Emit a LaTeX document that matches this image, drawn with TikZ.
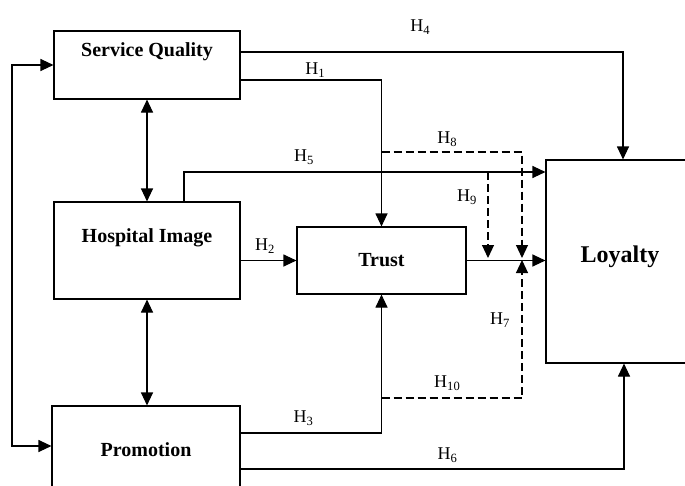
\documentclass[tikz,border=0pt]{standalone}
\usepackage{fontspec}
\setmainfont{Liberation Serif}
\usetikzlibrary{arrows.meta}
\tikzset{
  box/.style={draw, line width=1.1pt, inner sep=0pt},
  ttl/.style={font=\fontsize{20}{23}\selectfont\bfseries},
  hyp/.style={font=\fontsize{18}{21}\selectfont},
  arr/.style={line width=1.1pt, -{Triangle[length=13pt,width=12pt]}},
  arrs/.style={line width=1.1pt, {Triangle[length=13pt,width=12pt]}-{Triangle[length=13pt,width=12pt]}},
  hypdash/.style={arr, dash pattern=on 8pt off 4pt}
}
\begin{document}
\begin{tikzpicture}[x=1pt,y=-1pt]
    \useasboundingbox (0,0) rectangle (685,485);
    \clip (0,0) rectangle (685,485);
    % constructs
    \node[box, minimum width=186pt, minimum height=68pt, label={[ttl,yshift=13pt]center:Service Quality}] (sq) at (147,65) {};
    \node[box, minimum width=186pt, minimum height=97pt, label={[ttl,yshift=12.5pt]center:Hospital Image}] (hi) at (147,250.5) {};
    \node[box, minimum width=188pt, minimum height=114pt, label={[ttl,yshift=13pt]center:Promotion}] (pr) at (146,463) {};
    \node[box, minimum width=169pt, minimum height=67pt, label={[ttl]center:Trust}] (tr) at (381.5,260.5) {};
    \node[box, minimum width=148pt, minimum height=203pt, label={[ttl,font=\fontsize{24}{27}\selectfont\bfseries,yshift=4.5pt]center:Loyalty}] (lo) at (620,261.5) {};
    % correlations
    \draw[arrs] (sq.west) -- (12,65) -- (12,446) -- (pr.west |- 0,446);
    \draw[arrs] (sq.south) -- (hi.north);
    \draw[arrs] (hi.south) -- (hi.south |- pr.north);
    % direct paths
    \draw[arr] (sq.east |- 0,52) -| node[hyp, pos=0.235, yshift=25pt]{H\textsubscript{4}} (lo.north -| 623,0);
    \draw[arr] (sq.east |- 0,80) -| node[hyp, pos=0.265, yshift=10pt]{H\textsubscript{1}} (tr.north);
    \draw[arr] (hi.north -| 184,0) |- node[hyp, pos=0.666, yshift=15pt]{H\textsubscript{5}} (lo.west |- 0,172);
    \draw[arr] (hi.east |- tr.west) -- node[hyp, pos=0.44, yshift=14.5pt]{H\textsubscript{2}} (tr.west);
    \draw[arr] (pr.east |- 0,433) -| node[hyp, pos=0.223, yshift=15pt]{H\textsubscript{3}} (tr.south);
    \draw[arr] (pr.east |- 0,469) -| node[hyp, pos=0.27, yshift=14pt]{H\textsubscript{6}} (lo.south -| 624,0);
    \draw[arr] (tr.east) -- (tr.east -| lo.west);
    % mediated paths
    \draw[hypdash] (tr.north |- 0,152) -| node[hyp, pos=0.234, yshift=13pt]{H\textsubscript{8}} (522,258);
    \draw[hypdash] (488,172) -- node[hyp, pos=0.29, xshift=-21pt]{H\textsubscript{9}} (488,258);
    \draw[hypdash] (tr.south |- 0,398) -| node[hyp, pos=0.234, yshift=15pt]{H\textsubscript{10}} node[hyp, pos=0.783, xshift=-22pt]{H\textsubscript{7}} (522,260);
\end{tikzpicture}
\end{document}
